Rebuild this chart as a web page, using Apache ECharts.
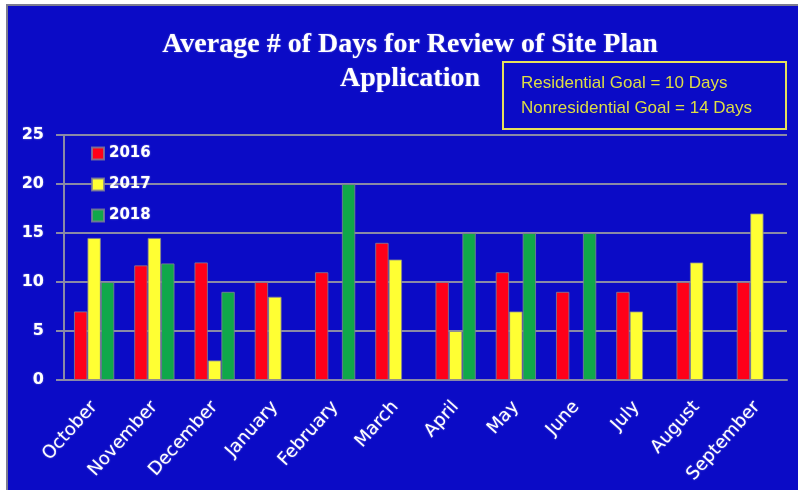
<!DOCTYPE html>
<html>
<head>
<meta charset="utf-8">
<script src="https://cdn.jsdelivr.net/npm/echarts@6/dist/echarts.min.js"></script>
<style>
  html, body { margin: 0; padding: 0; background: #fff; }
  #chart { width: 798px; height: 490px; }
</style>
</head>
<body>
<div id="chart"></div>
<script>
var months = ['October', 'November', 'December', 'January', 'February', 'March',
              'April', 'May', 'June', 'July', 'August', 'September'];
var years = ['2016', '2017', '2018'];
var days2016 = [7, 11.7, 12, 10, 11, 14, 10, 11, 9, 9, 10, 10];
var days2017 = [14.5, 14.5, 2, 8.5, '-', 12.3, 5, 7, '-', 7, 12, 17];
var days2018 = [10, 11.9, 9, '-', 20, '-', 15, 15, 15, '-', '-', '-'];
var yTicks = [0, 5, 10, 15, 20, 25];
var goalLines = ['Residential Goal = 10 Days', 'Nonresidential Goal = 14 Days'];

var barColors = ['#ff0019', '#ffff33', '#10a84a'];
var gridColor = '#8a8aa6';
var glow = { textShadowColor: 'rgba(255,255,255,0.45)', textShadowBlur: 2 };

var dom = document.getElementById('chart');
var myChart = echarts.init(dom, null, { renderer: 'canvas' });

function makeSeries(name, data, i) {
    return {
        name: name,
        type: 'bar',
        data: data,
        barGap: '0%',
        barCategoryGap: '33%',
        itemStyle: {
            color: barColors[i],
            borderColor: 'rgba(130,130,150,0.8)',
            borderWidth: 1
        }
    };
}

var option = {
    animation: false,
    backgroundColor: '#ffffff',
    graphic: [
        {
            type: 'rect',
            shape: { x: 7, y: 5, width: 800, height: 500 },
            style: { fill: '#0b0bc6', stroke: '#7c7c90', lineWidth: 2 },
            z: -100
        },
        {
            type: 'text',
            x: 410, y: 28,
            style: {
                text: 'Average # of Days for Review of Site Plan\nApplication',
                fill: '#ffffff',
                font: 'bold 28px "Liberation Serif", "DejaVu Serif", serif',
                align: 'center',
                lineHeight: 34,
                textShadowColor: 'rgba(255,255,255,0.4)',
                textShadowBlur: 2
            }
        },
        {
            type: 'rect',
            shape: { x: 503, y: 62, width: 283, height: 67 },
            style: { fill: 'none', stroke: '#e6e05a', lineWidth: 2 }
        },
        {
            type: 'text',
            x: 521, y: 71,
            style: {
                text: goalLines.join('\n'),
                fill: '#dede44',
                font: '17px "Liberation Sans", Arial, sans-serif',
                lineHeight: 25
            }
        }
    ],
    legend: {
        data: years,
        orient: 'vertical',
        left: 86,
        top: 141,
        itemWidth: 12,
        itemHeight: 12,
        itemGap: 16,
        icon: 'rect',
        textStyle: Object.assign({
            color: '#ffffff',
            fontSize: 15,
            fontWeight: 'bold',
            fontFamily: 'DejaVu Sans'
        }, glow)
    },
    grid: {
        left: 64,
        right: 11,
        top: 135,
        bottom: 110
    },
    xAxis: {
        type: 'category',
        data: months,
        axisLine: { lineStyle: { color: gridColor, width: 2 } },
        axisTick: { length: 6, lineStyle: { color: gridColor, width: 2 } },
        axisLabel: Object.assign({
            interval: 0,
            rotate: 48,
            margin: 24,
            color: '#ffffff',
            fontSize: 18,
            fontFamily: 'DejaVu Sans'
        }, glow)
    },
    yAxis: {
        type: 'value',
        min: yTicks[0],
        max: yTicks[yTicks.length - 1],
        interval: 5,
        axisLine: { show: true, lineStyle: { color: gridColor, width: 2 } },
        axisTick: { show: true, length: 8, lineStyle: { color: gridColor, width: 2 } },
        splitLine: { lineStyle: { color: gridColor, width: 2 } },
        axisLabel: Object.assign({
            margin: 20,
            color: '#ffffff',
            fontSize: 16,
            fontWeight: 'bold',
            fontFamily: 'DejaVu Sans'
        }, glow)
    },
    series: [
        makeSeries(years[0], days2016, 0),
        makeSeries(years[1], days2017, 1),
        makeSeries(years[2], days2018, 2)
    ]
};

myChart.setOption(option);
window.addEventListener('resize', myChart.resize);
</script>
</body>
</html>
